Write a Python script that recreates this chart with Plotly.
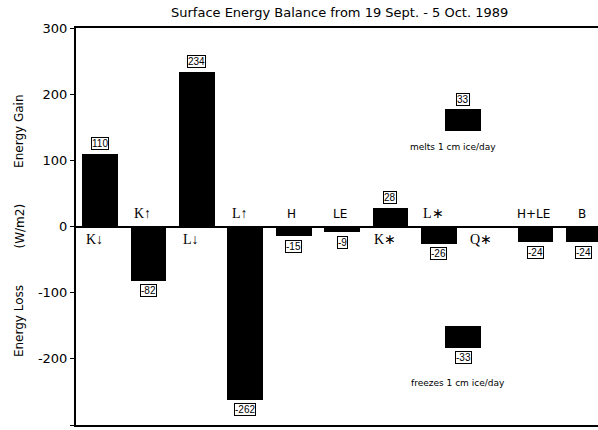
import plotly.graph_objects as go

categories = ["K↓", "K↑", "L↓", "L↑", "H", "LE", "K∗", "L∗", "Q∗", "H+LE", "B"]
values = [110, -82, 234, -262, -15, -9, 28, -26, 0, -24, -24]
serif_flags = [True, True, True, True, False, False, True, True, True, False, False]
value_labels = ["110", "-82", "234", "-262", "-15", "-9", "28", "-26", None, "-24", "-24"]

ref_x = 7.5
ref_bases = [145, -150]
ref_values = [33, -33]
ref_labels = ["33", "-33"]
ref_texts = ["melts 1 cm ice/day", "freezes 1 cm ice/day"]

yticks = [300, 200, 100, 0, -100, -200, -300]

xs = list(range(len(categories)))

fig = go.Figure()
fig.add_trace(go.Bar(x=xs, y=values, width=0.74, marker=dict(color="black", line=dict(width=0)),
                     showlegend=False, hoverinfo="skip"))
fig.add_trace(go.Bar(x=[ref_x, ref_x], y=ref_values, base=ref_bases, width=0.76,
                     marker=dict(color="black", line=dict(width=0)), showlegend=False, hoverinfo="skip"))

ann = []
for i, (c, v, s, lab) in enumerate(zip(categories, values, serif_flags, value_labels)):
    fam = "Liberation Serif" if s else "DejaVu Sans"
    size = 14 if s else 12
    shift = -13 if v >= 0 else 13
    ann.append(dict(x=i - 0.12 if s else i - 0.05, y=0, text=c, showarrow=False, yshift=shift,
                    font=dict(family=fam, size=size, color="black")))
    if lab is not None:
        ann.append(dict(x=i, y=v, text=lab, showarrow=False, yshift=10 if v > 0 else -10,
                        font=dict(family="Liberation Sans", size=10, color="black"),
                        bordercolor="black", borderwidth=1, borderpad=0, bgcolor="white"))

for b, v, lab, t in zip(ref_bases, ref_values, ref_labels, ref_texts):
    top = b + v
    ann.append(dict(x=ref_x, y=top, text=lab, showarrow=False, yshift=9 if v > 0 else -10,
                    font=dict(family="Liberation Sans", size=10, color="black"),
                    bordercolor="black", borderwidth=1, borderpad=0, bgcolor="white"))
    ann.append(dict(x=ref_x - 0.2 if v > 0 else ref_x - 0.1, y=b if v > 0 else top,
                    text=t, showarrow=False, yshift=-16 if v > 0 else -35,
                    font=dict(family="DejaVu Sans", size=9, color="black")))

for txt, yv in [("Energy Gain", 143), ("(W/m2)", 0), ("Energy Loss", -143)]:
    ann.append(dict(xref="paper", x=0, xshift=-66, y=yv, text=txt, textangle=-90, showarrow=False,
                    font=dict(family="DejaVu Sans", size=12, color="black")))

ann.append(dict(xref="paper", yref="paper", x=0.505, y=1, yshift=16, yanchor="middle",
                text="Surface Energy Balance from 19 Sept. - 5 Oct. 1989",
                showarrow=False, font=dict(family="DejaVu Sans", size=13, color="black")))

fig.update_layout(
    width=598, height=430,
    margin=dict(l=76, r=0, t=28, b=5),
    plot_bgcolor="white", paper_bgcolor="white",
    annotations=ann,
    barmode="overlay",
    bargap=0,
    xaxis=dict(range=[-0.5, 10.29], showticklabels=False, ticks="", showgrid=False, zeroline=False,
               showline=True, mirror=True, linecolor="black", linewidth=2),
    yaxis=dict(range=[-300, 300], tickvals=yticks, ticktext=[str(t) for t in yticks],
               ticks="outside", ticklen=4, tickcolor="black", showgrid=False,
               zeroline=True, zerolinecolor="black", zerolinewidth=1.5,
               showline=True, linecolor="black", linewidth=2,
               tickfont=dict(family="DejaVu Sans", size=13, color="black")),
)

fig.write_html("out.html", config={"displayModeBar": False},
               post_script="document.body.style.margin='0';document.body.style.overflow='hidden';")
